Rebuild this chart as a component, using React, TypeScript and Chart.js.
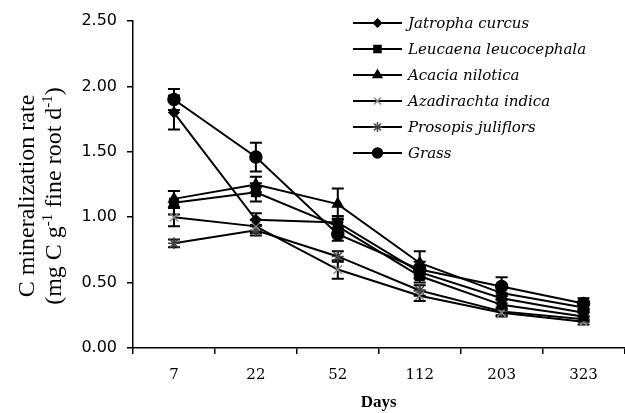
import React, { useEffect, useRef } from "react";
import { Chart, registerables } from "chart.js";
import { drawPoint } from "chart.js/helpers";

Chart.register(...registerables);

const days = ["7", "22", "52", "112", "203", "323"];
const seriesNames = [
  "Jatropha curcus",
  "Leucaena leucocephala",
  "Acacia nilotica",
  "Azadirachta indica",
  "Prosopis juliflors",
  "Grass",
];
const jatropha = [1.8, 0.98, 0.96, 0.58, 0.38, 0.27];
const leucaena = [1.11, 1.19, 0.93, 0.55, 0.33, 0.24];
const acacia = [1.14, 1.25, 1.1, 0.65, 0.42, 0.31];
const azadirachta = [1.0, 0.93, 0.6, 0.4, 0.27, 0.2];
const prosopis = [0.8, 0.9, 0.7, 0.44, 0.28, 0.22];
const grass = [1.9, 1.46, 0.87, 0.6, 0.47, 0.34];

const jatrophaErr = [0.13, 0.05, 0.05, 0.05, 0.04, 0.03];
const leucaenaErr = [0.09, 0.07, 0.06, 0.05, 0.04, 0.03];
const acaciaErr = [0.06, 0.06, 0.12, 0.09, 0.05, 0.03];
const azadirachtaErr = [0.07, 0.05, 0.07, 0.04, 0.03, 0.02];
const prosopisErr = [0.03, 0.04, 0.04, 0.04, 0.03, 0.02];
const grassErr = [0.08, 0.11, 0.05, 0.06, 0.07, 0.04];

const yTicks = [0, 0.5, 1.0, 1.5, 2.0, 2.5];

const styles = [
  { pointStyle: "rectRot", radius: 5, color: "#000" },
  { pointStyle: "rect", radius: 6, color: "#000" },
  { pointStyle: "triangle", radius: 6, color: "#000" },
  { pointStyle: "crossRot", radius: 6, color: "#8a8a8a" },
  { pointStyle: "star", radius: 6, color: "#444" },
  { pointStyle: "circle", radius: 6, color: "#000" },
];

const values = [jatropha, leucaena, acacia, azadirachta, prosopis, grass];
const errors = [jatrophaErr, leucaenaErr, acaciaErr, azadirachtaErr, prosopisErr, grassErr];

const errorBarPlugin = {
  id: "errorBars",
  beforeDatasetsDraw(chart: any) {
    const ctx = chart.ctx;
    const y = chart.scales.y;
    ctx.save();
    ctx.strokeStyle = "#000";
    ctx.lineWidth = 2;
    chart.data.datasets.forEach((ds: any, di: number) => {
      const meta = chart.getDatasetMeta(di);
      meta.data.forEach((pt: any, i: number) => {
        const v = ds.data[i];
        const e = errors[di][i];
        const top = y.getPixelForValue(v + e);
        const bot = y.getPixelForValue(v - e);
        ctx.beginPath();
        ctx.moveTo(pt.x, top);
        ctx.lineTo(pt.x, bot);
        ctx.moveTo(pt.x - 6, top);
        ctx.lineTo(pt.x + 6, top);
        ctx.moveTo(pt.x - 6, bot);
        ctx.lineTo(pt.x + 6, bot);
        ctx.stroke();
      });
    });
    ctx.restore();
  },
};

const legendPlugin = {
  id: "customLegend",
  afterDraw(chart: any) {
    const ctx = chart.ctx;
    ctx.save();
    const x0 = 353;
    const x1 = 402;
    seriesNames.forEach((name, i) => {
      const yy = 23 + i * 26;
      ctx.strokeStyle = "#000";
      ctx.lineWidth = 2;
      ctx.beginPath();
      ctx.moveTo(x0, yy);
      ctx.lineTo(x1, yy);
      ctx.stroke();
      const st = styles[i];
      ctx.fillStyle = st.color;
      ctx.strokeStyle = st.color;
      ctx.lineWidth = 1.5;
      drawPoint(ctx, { pointStyle: st.pointStyle, radius: st.radius - 1, borderWidth: 1.5, rotation: 0 } as any, (x0 + x1) / 2, yy);
      ctx.fillStyle = "#000";
      ctx.font = "italic 15px 'DejaVu Serif'";
      ctx.textBaseline = "middle";
      ctx.textAlign = "left";
      ctx.fillText(name, 408, yy + 1);
    });
    ctx.restore();
  },
};

type Run = { t: string; sup?: boolean };
const titleLine1: Run[] = [{ t: "C mineralization rate" }];
const titleLine2: Run[] = [
  { t: "(mg C g" },
  { t: "-1", sup: true },
  { t: " fine root d" },
  { t: "-1", sup: true },
  { t: ")" },
];

const yTitlePlugin = {
  id: "yTitle",
  afterDraw(chart: any) {
    const ctx = chart.ctx;
    const fam = "'Liberation Serif'";
    const base = 24;
    const sup = 15;
    const cy = 196;
    const drawLine = (runs: Run[], cx: number) => {
      ctx.save();
      ctx.translate(cx, cy);
      ctx.rotate(-Math.PI / 2);
      ctx.fillStyle = "#000";
      ctx.textBaseline = "alphabetic";
      ctx.textAlign = "left";
      let total = 0;
      runs.forEach((r) => {
        ctx.font = `${r.sup ? sup : base}px ${fam}`;
        total += ctx.measureText(r.t).width;
      });
      let x = -total / 2;
      runs.forEach((r) => {
        ctx.font = `${r.sup ? sup : base}px ${fam}`;
        ctx.fillText(r.t, x, r.sup ? base * 0.33 - 9 : base * 0.33);
        x += ctx.measureText(r.t).width;
      });
      ctx.restore();
    };
    drawLine(titleLine1, 26);
    drawLine(titleLine2, 53);
  },
};

export default function App() {
  const ref = useRef<HTMLCanvasElement>(null);
  useEffect(() => {
    document.body.style.margin = "0";
    const canvas = ref.current!;
    const chart = new Chart(canvas, {
      type: "line",
      data: {
        labels: days,
        datasets: values.map((v, i) => ({
          label: seriesNames[i],
          data: v,
          borderColor: "#000",
          borderWidth: 2,
          pointStyle: styles[i].pointStyle as any,
          pointRadius: styles[i].radius,
          pointBackgroundColor: styles[i].color,
          pointBorderColor: styles[i].color,
          pointBorderWidth: 1.5,
          tension: 0,
          fill: false,
        })),
      },
      options: {
        responsive: false,
        animation: false,
        layout: { padding: { top: 21, right: 4, left: 0, bottom: 0 } },
        plugins: {
          legend: { display: false },
          tooltip: { enabled: false },
        },
        scales: {
          x: {
            type: "category",
            offset: true,
            border: { color: "#000", width: 1.5 },
            grid: { display: true, offset: true, drawOnChartArea: false, drawTicks: true, tickLength: 6, color: "#000", lineWidth: 1.5 },
            ticks: { color: "#000", font: { family: "'DejaVu Serif'", size: 15 }, padding: 12 },
            title: { display: true, text: "Days", color: "#000", font: { family: "'Liberation Serif'", size: 17, weight: "bold" }, padding: { top: 2, bottom: 0 } },
            afterFit: (s: any) => { s.height = 65; },
          },
          y: {
            min: 0,
            max: 2.5,
            afterBuildTicks: (s: any) => { s.ticks = yTicks.map((v) => ({ value: v })); },
            border: { color: "#000", width: 1.5 },
            grid: { display: true, drawOnChartArea: false, drawTicks: true, tickLength: 6, color: "#000", lineWidth: 1.5 },
            ticks: {
              color: "#000",
              font: { family: "'DejaVu Sans'", size: 16 },
              padding: 10,
              callback: (v: any) => Number(v).toFixed(2),
            },
            title: { display: false },
            afterFit: (s: any) => { s.width = 133; },
          },
        },
      },
      plugins: [errorBarPlugin, legendPlugin, yTitlePlugin],
    });
    return () => chart.destroy();
  }, []);
  return (
    <div style={{ position: "fixed", left: 0, top: 0, width: 625, height: 413, overflow: "hidden", background: "#fff" }}>
      <canvas ref={ref} width={632} height={413} />
    </div>
  );
}
